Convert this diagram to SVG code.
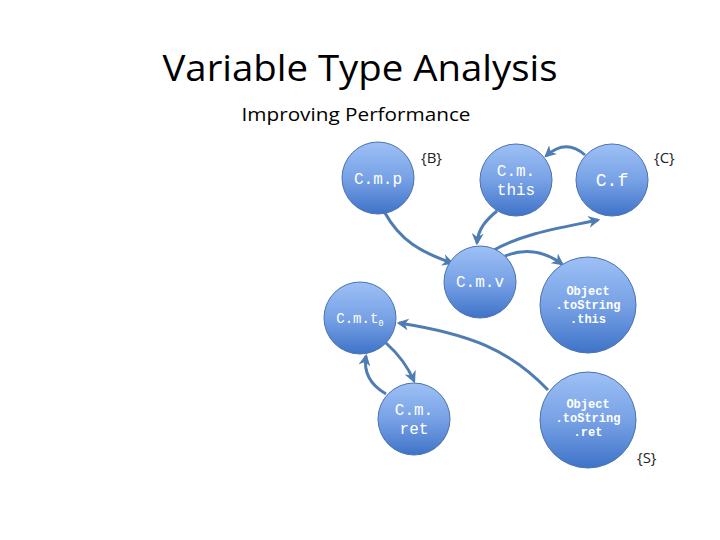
<svg xmlns="http://www.w3.org/2000/svg" width="720" height="540" viewBox="0 0 720 540">
<defs>
<linearGradient id="g" x1="0" y1="0" x2="0" y2="1">
<stop offset="0" stop-color="#9dc0f5"/>
<stop offset="0.5" stop-color="#78a2e6"/>
<stop offset="1" stop-color="#3f73c8"/>
</linearGradient>
<marker id="ah" viewBox="0 0 10 10" refX="8" refY="5" markerWidth="4" markerHeight="4" orient="auto" markerUnits="strokeWidth">
<path d="M0,0 L10,5 L0,10 L3,5 z" fill="#4f7db3"/>
</marker>
<style>
.n{fill:url(#g);stroke:#4a72b0;stroke-width:1}
.t{font-family:"Liberation Mono",monospace;fill:#ffffff;text-anchor:middle}
.b{font-weight:bold}
.c{fill:none;stroke:#4f7db3;stroke-width:3;marker-end:url(#ah)}
.l{font-family:"Open Sans","Liberation Sans",sans-serif;font-size:15px;fill:#222}
</style>
</defs>
<rect width="720" height="540" fill="#ffffff"/>
<text x="360" y="81" text-anchor="middle" font-family="'Open Sans','Liberation Sans',sans-serif" font-size="36" fill="#000" textLength="395" lengthAdjust="spacingAndGlyphs">Variable Type Analysis</text>
<text x="356" y="121" text-anchor="middle" font-family="'Open Sans','Liberation Sans',sans-serif" font-size="19" fill="#000" textLength="229" lengthAdjust="spacingAndGlyphs">Improving Performance</text>
<g id="connectors">
<path class="c" d="M385 213 C400 240 420 252 452 263"/>
<path class="c" d="M497 211 C486 220 478 229 477 243"/>
<path class="c" d="M494 250 C525 233 560 228 598 220"/>
<path class="c" d="M585 155 Q566 138 546 156"/>
<path class="c" d="M505 256 Q535 244 562 264"/>
<path class="c" d="M548 390 C510 350 470 334 399 323"/>
<path class="c" d="M386 343 Q405 360 414 381"/>
<path class="c" d="M386 394 Q362 380 366 356"/>
</g>
<g id="cmp"><circle class="n" cx="378" cy="178" r="36"/><text class="t" x="378" y="184" font-size="16">C.m.p</text></g>
<g id="cmthis"><circle class="n" cx="516" cy="180" r="36"/><text class="t" x="516" y="176" font-size="16">C.m.</text><text class="t" x="516" y="195" font-size="16">this</text></g>
<g id="cf"><circle class="n" cx="612" cy="180" r="36"/><text class="t" x="612" y="186" font-size="18">C.f</text></g>
<g id="cmv"><circle class="n" cx="480" cy="282" r="36"/><text class="t" x="480" y="287" font-size="16">C.m.v</text></g>
<g id="cmt0"><circle class="n" cx="360" cy="318" r="36"/><text class="t" x="360" y="323" font-size="14">C.m.t<tspan font-size="9" dy="3">0</tspan></text></g>
<g id="cmret"><circle class="n" cx="414" cy="419" r="36"/><text class="t" x="414" y="415" font-size="16">C.m.</text><text class="t" x="414" y="434" font-size="16">ret</text></g>
<g id="otsthis"><circle class="n" cx="588" cy="305" r="48"/><text class="t b" x="588" y="295" font-size="12">Object</text><text class="t b" x="588" y="309" font-size="12">.toString</text><text class="t b" x="588" y="323" font-size="12">.this</text></g>
<g id="otsret"><circle class="n" cx="588" cy="420" r="48"/><text class="t b" x="588" y="408" font-size="12">Object</text><text class="t b" x="588" y="422" font-size="12">.toString</text><text class="t b" x="588" y="436" font-size="12">.ret</text></g>
<text class="l" x="421" y="163">{B}</text>
<text class="l" x="654" y="163">{C}</text>
<text class="l" x="637" y="463">{S}</text>
</svg>
